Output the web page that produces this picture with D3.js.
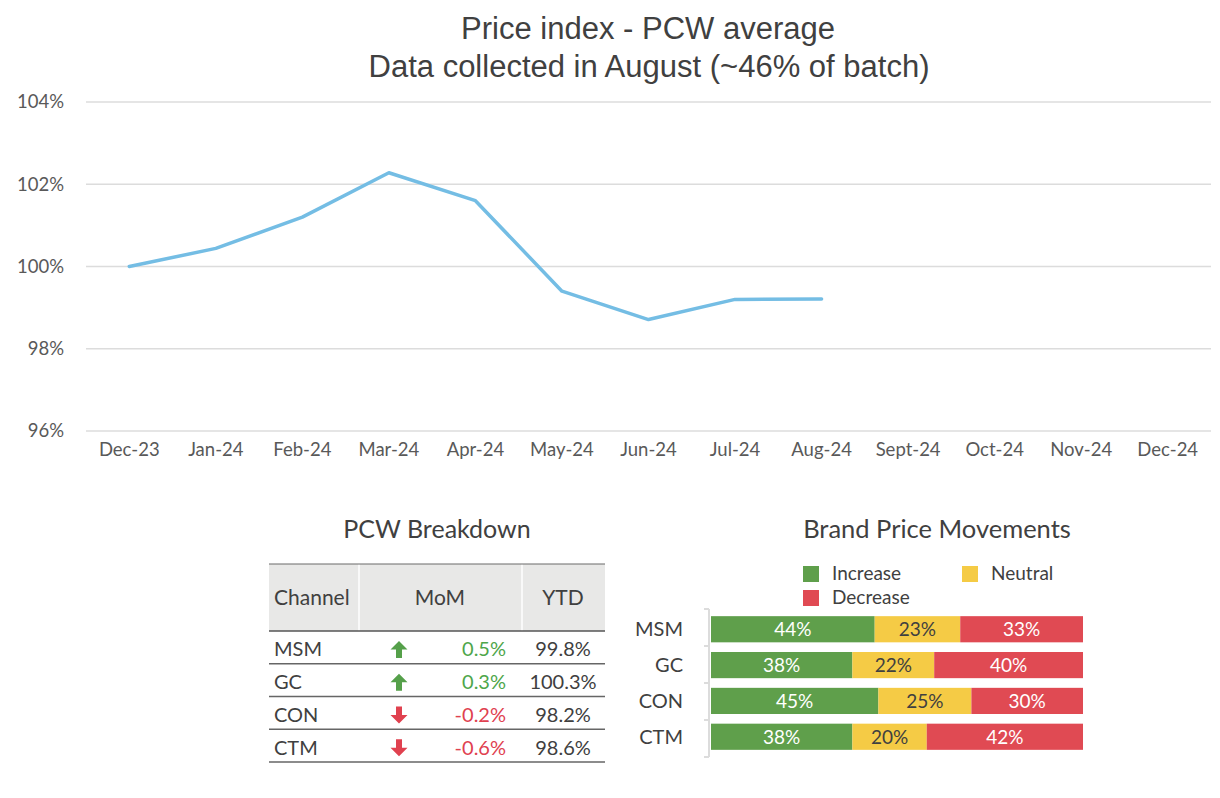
<!DOCTYPE html>
<html><head><meta charset="utf-8">
<script src="https://cdn.jsdelivr.net/npm/d3@7"></script>
<style>
html,body{margin:0;padding:0;background:#fff;}
svg{display:block;}
</style></head>
<body>
<svg id="chart" width="1220" height="798"></svg>
<script>
// ---------- DATA ----------
const months = ["Dec-23","Jan-24","Feb-24","Mar-24","Apr-24","May-24","Jun-24","Jul-24","Aug-24","Sept-24","Oct-24","Nov-24","Dec-24"];
const priceIndex = [100.0, 100.44, 101.2, 102.28, 101.6, 99.4, 98.71, 99.2, 99.21];
const yTicks = [96, 98, 100, 102, 104];

const channels = ["MSM", "GC", "CON", "CTM"];
const momValues = [0.5, 0.3, -0.2, -0.6];
const ytdValues = [99.8, 100.3, 98.2, 98.6];

const brands = ["MSM", "GC", "CON", "CTM"];
const increaseShare = [44, 38, 45, 38];
const neutralShare = [23, 22, 25, 20];
const decreaseShare = [33, 40, 30, 42];
const movementKeys = ["Increase", "Neutral", "Decrease"];

// ---------- STYLE ----------
const FONT = "Lato, 'Open Sans', sans-serif";
const TEXT = "#404040";
const colors = {Increase: "#5f9f4b", Neutral: "#f5cb45", Decrease: "#e04a53"};

const svg = d3.select("#chart");

// ---------- TITLE ----------
const title = svg.append("g").attr("font-family", "'Liberation Sans', Arial, sans-serif")
  .attr("fill", TEXT).attr("font-size", 31).attr("text-anchor", "middle");
title.append("text").attr("x", 648).attr("y", 39).text("Price index - PCW average");
title.append("text").attr("x", 649).attr("y", 77).text("Data collected in August (~46% of batch)");

// ---------- LINE CHART ----------
const x = d3.scaleBand().domain(months).range([86, 1211]).paddingInner(0).paddingOuter(0);
const y = d3.scaleLinear().domain([96, 104]).range([431, 102]);

const grid = svg.append("g");
grid.selectAll("line").data(yTicks).join("line")
  .attr("x1", 86).attr("x2", 1211)
  .attr("y1", d => y(d)).attr("y2", d => y(d))
  .attr("stroke", "#dcdcdc").attr("stroke-width", 1.5);

const yAxis = d3.axisLeft(y).tickValues(yTicks).tickFormat(d => d + "%").tickSize(0).tickPadding(0);
const yg = svg.append("g").attr("transform", "translate(64,0)").call(yAxis);
yg.select(".domain").remove();
yg.selectAll("text").attr("font-family", FONT).attr("font-size", 18.5).attr("fill", "#595959");

const xAxis = d3.axisBottom(x).tickSize(0).tickPadding(0);
const xg = svg.append("g").attr("transform", "translate(0,443)").call(xAxis);
xg.select(".domain").remove();
xg.selectAll("text").attr("font-family", FONT).attr("font-size", 18.5).attr("fill", "#595959");

const line = d3.line().x((d, i) => x(months[i]) + x.bandwidth() / 2).y(d => y(d));
svg.append("path").datum(priceIndex).attr("d", line)
  .attr("fill", "none").attr("stroke", "#74bde4").attr("stroke-width", 3.5)
  .attr("stroke-linejoin", "round").attr("stroke-linecap", "round");

// ---------- TABLE ----------
const tbl = svg.append("g").attr("font-family", FONT).attr("fill", TEXT);
tbl.append("text").attr("x", 437).attr("y", 538).attr("text-anchor", "middle")
  .attr("font-size", 25).attr("fill", TEXT).text("PCW Breakdown");

const tX0 = 269, tX1 = 605, hTop = 564, hBot = 631;
const colSep = [359, 522];
const rowY = d3.scaleBand().domain(channels).range([hBot, 762]);

tbl.append("rect").attr("x", tX0).attr("y", hTop).attr("width", tX1 - tX0).attr("height", hBot - hTop).attr("fill", "#e8e8e7");
colSep.forEach(cx => tbl.append("line").attr("x1", cx).attr("x2", cx).attr("y1", hTop).attr("y2", hBot)
  .attr("stroke", "#fff").attr("stroke-width", 1.5));
tbl.append("line").attr("x1", tX0).attr("x2", tX1).attr("y1", hTop).attr("y2", hTop).attr("stroke", "#6b6b6b").attr("stroke-width", 1.2);
tbl.append("line").attr("x1", tX0).attr("x2", tX1).attr("y1", hBot).attr("y2", hBot).attr("stroke", "#555").attr("stroke-width", 1.5);

const hY = (hTop + hBot) / 2 + 7.5;
tbl.append("text").attr("x", 274).attr("y", hY).attr("font-size", 21).text("Channel");
tbl.append("text").attr("x", 440).attr("y", hY).attr("font-size", 21).attr("text-anchor", "middle").text("MoM");
tbl.append("text").attr("x", 563).attr("y", hY).attr("font-size", 21).attr("text-anchor", "middle").text("YTD");

const rows = tbl.selectAll("g.row").data(channels).join("g").attr("class", "row");
rows.append("line").attr("x1", tX0).attr("x2", tX1)
  .attr("y1", d => rowY(d) + rowY.bandwidth()).attr("y2", d => rowY(d) + rowY.bandwidth())
  .attr("stroke", "#666").attr("stroke-width", 1.3);
const rc = d => rowY(d) + rowY.bandwidth() / 2;
rows.append("text").attr("x", 274).attr("y", d => rc(d) + 9).attr("font-size", 20).text(d => d);
rows.append("text").attr("x", 506).attr("y", d => rc(d) + 9).attr("font-size", 20).attr("text-anchor", "end")
  .attr("fill", (d, i) => momValues[i] >= 0 ? "#4ea64a" : "#e0414f")
  .text((d, i) => momValues[i].toFixed(1) + "%");
rows.append("text").attr("x", 563).attr("y", d => rc(d) + 9).attr("font-size", 20).attr("text-anchor", "middle")
  .text((d, i) => ytdValues[i].toFixed(1) + "%");
// arrows
const upArrow = "M0,-8.5 L8.5,0 L3,0 L3,8.5 L-3,8.5 L-3,0 L-8.5,0 Z";
rows.append("path")
  .attr("d", upArrow)
  .attr("transform", (d, i) => `translate(399,${rc(d) + 2}) rotate(${momValues[i] >= 0 ? 0 : 180})`)
  .attr("fill", (d, i) => momValues[i] >= 0 ? "#55a04a" : "#e0414f");

// ---------- STACKED BARS ----------
const bg = svg.append("g").attr("font-family", FONT);
bg.append("text").attr("x", 937).attr("y", 538).attr("text-anchor", "middle")
  .attr("font-size", 25.5).attr("fill", TEXT).text("Brand Price Movements");

// legend
const legendPos = [{k: "Increase", x: 803, y: 566}, {k: "Neutral", x: 962, y: 566}, {k: "Decrease", x: 803, y: 590}];
legendPos.forEach(p => {
  bg.append("rect").attr("x", p.x).attr("y", p.y).attr("width", 16).attr("height", 16).attr("fill", colors[p.k]);
  bg.append("text").attr("x", p.x + 29).attr("y", p.y + 14).attr("font-size", 19).attr("fill", TEXT).text(p.k);
});

const bx = d3.scaleLinear().domain([0, 100]).range([711, 1083]);
const by = d3.scaleBand().domain(brands).range([609, 757]).paddingInner(0.27).paddingOuter(0.2);

const table = brands.map((b, i) => ({brand: b, Increase: increaseShare[i], Neutral: neutralShare[i], Decrease: decreaseShare[i]}));
const stacked = d3.stack().keys(movementKeys)(table);

const layers = bg.selectAll("g.layer").data(stacked).join("g").attr("class", "layer");
layers.selectAll("rect").data(s => s.map(d => ({d, key: s.key}))).join("rect")
  .attr("x", o => bx(o.d[0])).attr("width", o => bx(o.d[1]) - bx(o.d[0]))
  .attr("y", o => by(o.d.data.brand)).attr("height", by.bandwidth())
  .attr("fill", o => colors[o.key]);
layers.selectAll("text").data(s => s.map(d => ({d, key: s.key}))).join("text")
  .attr("x", o => (bx(o.d[0]) + bx(o.d[1])) / 2)
  .attr("y", o => by(o.d.data.brand) + by.bandwidth() / 2 + 7)
  .attr("text-anchor", "middle").attr("font-size", 19)
  .attr("fill", o => o.key === "Neutral" ? TEXT : "#fff")
  .text(o => (o.d[1] - o.d[0]) + "%");

// category axis
const [r0, r1] = by.range();
const stepB = (r1 - r0) / brands.length;
bg.append("line").attr("x1", 709).attr("x2", 709).attr("y1", r0).attr("y2", r1).attr("stroke", "#dcdcdc").attr("stroke-width", 2);
bg.selectAll("line.tk").data(d3.range(brands.length + 1)).join("line").attr("class", "tk")
  .attr("x1", 704).attr("x2", 709).attr("y1", i => r0 + i * stepB).attr("y2", i => r0 + i * stepB)
  .attr("stroke", "#dcdcdc").attr("stroke-width", 2);
bg.selectAll("text.cat").data(brands).join("text").attr("class", "cat")
  .attr("x", 683).attr("y", d => by(d) + by.bandwidth() / 2 + 7)
  .attr("text-anchor", "end").attr("font-size", 20).attr("fill", TEXT).text(d => d);
</script>
</body></html>
